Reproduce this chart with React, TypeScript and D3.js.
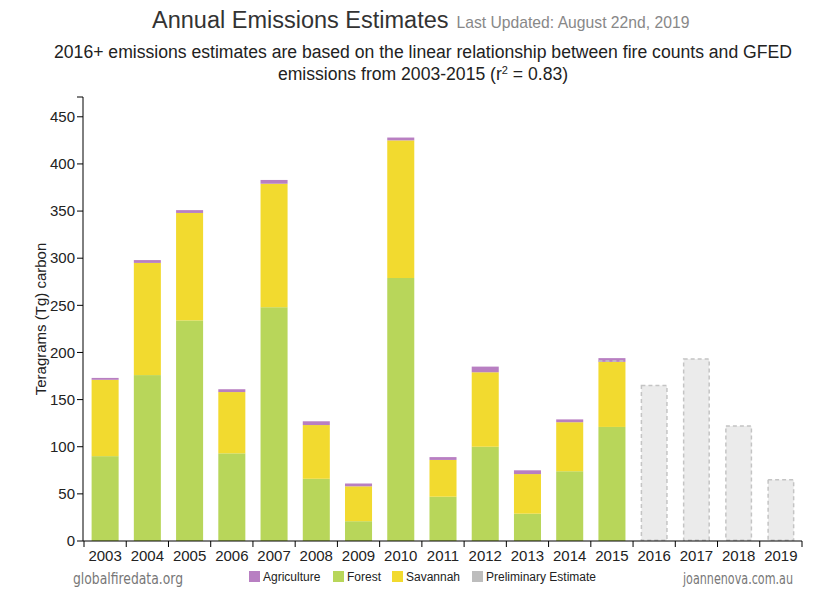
import * as d3 from "d3";

const YEARS = ["2003", "2004", "2005", "2006", "2007", "2008", "2009", "2010", "2011", "2012", "2013", "2014", "2015", "2016", "2017", "2018", "2019"];
const MEASURED_YEARS = ["2003", "2004", "2005", "2006", "2007", "2008", "2009", "2010", "2011", "2012", "2013", "2014", "2015"];
const FOREST = [90, 176, 234, 93, 248, 66, 21, 279, 47, 100, 29, 74, 121];
const SAVANNAH = [81, 119, 114, 65, 131, 57, 37, 146, 39, 79, 42, 52, 69];
const AGRICULTURE = [2, 3, 3, 3, 4, 4, 3, 3, 3, 6, 4, 3, 4];
const ESTIMATE_YEARS = ["2015", "2016", "2017", "2018", "2019"];
const ESTIMATES = [191, 165, 193, 122, 65];
const Y_TICKS = [0, 50, 100, 150, 200, 250, 300, 350, 400, 450];

const COLORS = {
  Forest: "#b8d65a",
  Savannah: "#f2da2f",
  Agriculture: "#b87fc2",
  Preliminary: "#c4c4c4",
};

const FONT = "'Liberation Sans', Arial, sans-serif";
const NARROW = "'Liberation Sans Narrow', 'DejaVu Sans Condensed', sans-serif";

export default function App() {
  const left = 84;
  const right = 802;
  const bottom = 541;
  const top = 97;

  const x = d3.scaleBand<string>().domain(YEARS).range([left, right]).paddingInner(0.36).paddingOuter(0.18);
  const y = d3.scaleLinear().domain([0, 471]).range([bottom, top]);
  const step = x.step();
  const bw = x.bandwidth();
  const edge = (yr: string) => (x(yr) as number) - (step * 0.36) / 2;

  const rows = MEASURED_YEARS.map((yr, i) => ({
    year: yr,
    Forest: FOREST[i],
    Savannah: SAVANNAH[i],
    Agriculture: AGRICULTURE[i],
  }));
  const stack = d3.stack<any>().keys(["Forest", "Savannah", "Agriculture"]);
  const series = stack(rows);

  const legend = [
    { label: "Agriculture", color: COLORS.Agriculture, x: 249 },
    { label: "Forest", color: COLORS.Forest, x: 333 },
    { label: "Savannah", color: COLORS.Savannah, x: 392 },
    { label: "Preliminary Estimate", color: "#bdbdbd", x: 472 },
  ];

  return (
    <svg width={828} height={610} style={{ position: "absolute", left: 0, top: 0, background: "#fff" }} fontFamily={FONT}>
      <text x={152} y={28} fill="#333">
        <tspan fontSize={23.5}>Annual Emissions Estimates</tspan>
        <tspan fontSize={15.7} fill="#888" dx={8}>Last Updated: August 22nd, 2019</tspan>
      </text>
      <text x={423} y={58} textAnchor="middle" fontSize={17.6} fill="#222">
        2016+ emissions estimates are based on the linear relationship between fire counts and GFED
      </text>
      <text x={423} y={80} textAnchor="middle" fontSize={17.6} fill="#222">
        emissions from 2003-2015 (r<tspan fontSize={11} dy={-6}>2</tspan><tspan dy={6}> = 0.83)</tspan>
      </text>

      {/* stacked bars */}
      {series.map((s) => (
        <g key={s.key} fill={(COLORS as any)[s.key]}>
          {s.map((d) => (
            <rect key={d.data.year} x={x(d.data.year)} y={y(d[1])} width={bw} height={y(d[0]) - y(d[1])} />
          ))}
        </g>
      ))}

      {/* preliminary estimates */}
      {ESTIMATE_YEARS.map((yr, i) =>
        yr === "2015" ? (
          <line key={yr} x1={x(yr)} x2={(x(yr) as number) + bw} y1={y(ESTIMATES[i])} y2={y(ESTIMATES[i])}
            stroke={COLORS.Preliminary} strokeWidth={1.5} strokeDasharray="4,3" />
        ) : (
          <rect key={yr} x={(x(yr) as number) + 0.75} y={y(ESTIMATES[i])} width={bw - 1.5} height={bottom - y(ESTIMATES[i]) - 0.75}
            fill="#ebebeb" stroke={COLORS.Preliminary} strokeWidth={1.5} strokeDasharray="4,3" />
        )
      )}

      {/* y axis */}
      <line x1={83} x2={83} y1={top} y2={bottom} stroke="#000" />
      <line x1={77} x2={83} y1={top} y2={top} stroke="#000" />
      {Y_TICKS.map((t) => (
        <g key={t}>
          <line x1={77} x2={83} y1={y(t)} y2={y(t)} stroke="#000" />
          <text x={75} y={y(t)} dy="0.35em" textAnchor="end" fontSize={15} fill="#222">{t}</text>
        </g>
      ))}
      <text transform={`translate(46,319) rotate(-90)`} textAnchor="middle" fontSize={15} fill="#222">
        Teragrams (Tg) carbon
      </text>

      {/* x axis */}
      <line x1={83} x2={right} y1={bottom} y2={bottom} stroke="#000" />
      {YEARS.map((yr) => (
        <g key={yr}>
          <line x1={edge(yr)} x2={edge(yr)} y1={bottom} y2={bottom + 6} stroke="#000" />
          <text x={(x(yr) as number) + bw / 2} y={bottom + 20} textAnchor="middle" fontSize={15} fill="#222">{yr}</text>
        </g>
      ))}
      <line x1={right} x2={right} y1={bottom} y2={bottom + 6} stroke="#000" />

      {/* legend */}
      {legend.map((l) => (
        <g key={l.label}>
          <rect x={l.x} y={571} width={11} height={11} fill={l.color} />
          <text x={l.x + 14} y={581} fontSize={12} fill="#222">{l.label}</text>
        </g>
      ))}

      <text x={73} y={584} fontSize={15} fill="#777" fontFamily={NARROW} textLength={110} lengthAdjust="spacingAndGlyphs">
        globalfiredata.org
      </text>
      <text x={683} y={584} fontSize={15} fill="#777" fontFamily={NARROW} textLength={110} lengthAdjust="spacingAndGlyphs">
        joannenova.com.au
      </text>
    </svg>
  );
}
